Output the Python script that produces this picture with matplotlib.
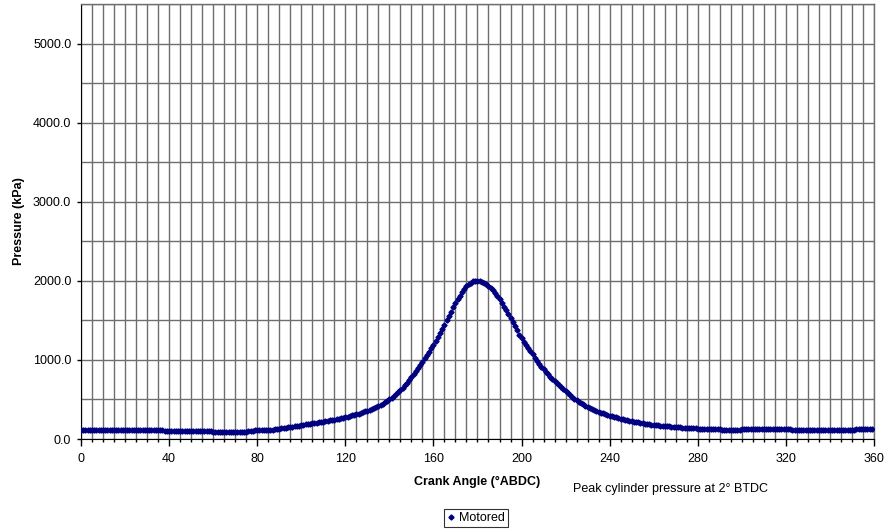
import matplotlib.pyplot as plt
import numpy as np

# crank angle (deg ABDC), one reading per degree
angle = np.arange(0, 360)

# cylinder pressure (kPa), one value per degree
pressure = [
    # 0-36
    120, 119, 118, 119, 120, 118, 117, 118, 119, 120, 119, 118, 117, 118, 119, 120, 119, 118, 118, 119,
    120, 119, 118, 117, 118, 119, 120, 119, 118, 117, 118, 119, 120, 118, 117, 116, 114,
    # 37-59
    108, 106, 105, 105, 106, 105, 104, 105, 106, 105, 104, 105, 106, 105, 104, 105, 104, 103, 104, 105,
    104, 102, 98,
    # 60-76
    92, 90, 89, 88, 88, 89, 88, 87, 88, 89, 88, 87, 88, 89, 90, 92, 96,
    # 77-84
    102, 106, 108, 109, 110, 110, 111, 112,
    # 85-99
    114, 117, 120, 124, 127, 130, 134, 138, 142, 146, 150, 155, 160, 165, 170,
    # 100-121
    175, 180, 184, 188, 193, 198, 202, 207, 211, 216, 221, 226, 231, 236, 241, 246, 251, 257, 263, 270,
    277, 284,
    # 122-135
    291, 298, 305, 313, 321, 330, 339, 349, 359, 370, 382, 395, 408, 420,
    # 136-149
    434, 449, 465, 482, 500, 521, 543, 567, 592, 618, 647, 678, 712, 748,
    # 150-179
    786, 824, 862, 900, 940, 980, 1020, 1060, 1100, 1145, 1190, 1238, 1286, 1336, 1390, 1445, 1500, 1556,
    1612, 1665, 1716, 1766, 1813, 1858, 1900, 1932, 1955, 1975, 1992, 2000,
    # 180-209
    2002, 1998, 1988, 1972, 1955, 1935, 1910, 1880, 1848, 1812, 1772, 1725, 1675, 1625, 1575, 1525, 1475,
    1425, 1375, 1320, 1275, 1232, 1190, 1150, 1112, 1070, 1030, 990, 952, 915,
    # 210-239
    880, 848, 816, 788, 760, 733, 707, 682, 655, 628, 602, 578, 555, 533, 512, 492, 472, 455, 438, 422,
    406, 392, 380, 368, 357, 346, 335, 325, 315, 306,
    # 240-269
    297, 289, 281, 274, 266, 259, 252, 245, 238, 231, 225, 219, 214, 209, 204, 199, 194, 190, 186, 182,
    178, 175, 172, 169, 166, 164, 161, 159, 156, 154,
    # 270-299
    151, 149, 146, 144, 142, 140, 138, 136, 134, 133, 131, 129, 128, 127, 126, 125, 124, 123, 122, 122,
    121, 120, 119, 118, 116, 114, 113, 114, 117, 120,
    # 300-329
    122, 123, 124, 125, 124, 123, 124, 125, 126, 125, 124, 123, 124, 125, 126, 125, 124, 123, 124, 125,
    124, 123, 122, 120, 118, 112, 110, 110, 111, 110,
    # 330-359
    109, 110, 111, 110, 109, 110, 111, 110, 109, 110, 111, 110, 109, 110, 111, 110, 109, 110, 111, 112,
    114, 118, 121, 122, 123, 122, 121, 122, 123, 124,
]

plt.rcParams['font.family'] = ['Liberation Sans', 'DejaVu Sans']

fig = plt.figure(figsize=(8.96, 5.29), dpi=100)
ax = fig.add_axes([0.0904, 0.1701, 0.885, 0.8223])

ax.plot(angle, pressure, linestyle='none', marker='D', markersize=2.6,
        color='#000080', label='Motored', zorder=3)

ax.set_xlim(0, 360)
ax.set_ylim(0, 5500)

# grid every 5 deg / 500 kPa
ax.set_xticks(np.arange(0, 361, 40))
ax.set_xticks(np.arange(0, 361, 5), minor=True)
ax.set_yticks(np.arange(0, 5001, 1000))
ax.set_yticks(np.arange(0, 5501, 500), minor=True)
ax.set_yticklabels(['{:.1f}'.format(v) for v in np.arange(0, 5001, 1000)])
ax.grid(True, which='both', color='#6e6e6e', linewidth=1.0, zorder=1)
ax.set_axisbelow(True)

ax.tick_params(axis='x', which='major', length=5, width=1, labelsize=9, pad=5)
ax.tick_params(axis='x', which='minor', length=2.5, width=1)
ax.tick_params(axis='y', which='major', length=3, width=1, labelsize=9, pad=4)
ax.tick_params(axis='y', which='minor', length=0)

for s in ['left', 'bottom']:
    ax.spines[s].set_color('black')
for s in ['top', 'right']:
    ax.spines[s].set_color('#6e6e6e')
    ax.spines[s].set_linewidth(1.0)

ax.set_xlabel('Crank Angle (°ABDC)', fontsize=9, fontweight='bold', labelpad=8)
ax.set_ylabel('Pressure (kPa)', fontsize=9, fontweight='bold', labelpad=5.5)

fig.text(573 / 896, 1 - 489 / 529, 'Peak cylinder pressure at 2° BTDC', fontsize=9, va='center')

leg = fig.legend(loc='center', bbox_to_anchor=(476 / 896, 1 - 518 / 529), fontsize=9,
                 frameon=True, fancybox=False, edgecolor='black', handlelength=0.6,
                 handletextpad=0.4, borderpad=0.25, markerscale=1.0)
leg.get_frame().set_linewidth(0.8)

fig.savefig('out.png', dpi=100)
